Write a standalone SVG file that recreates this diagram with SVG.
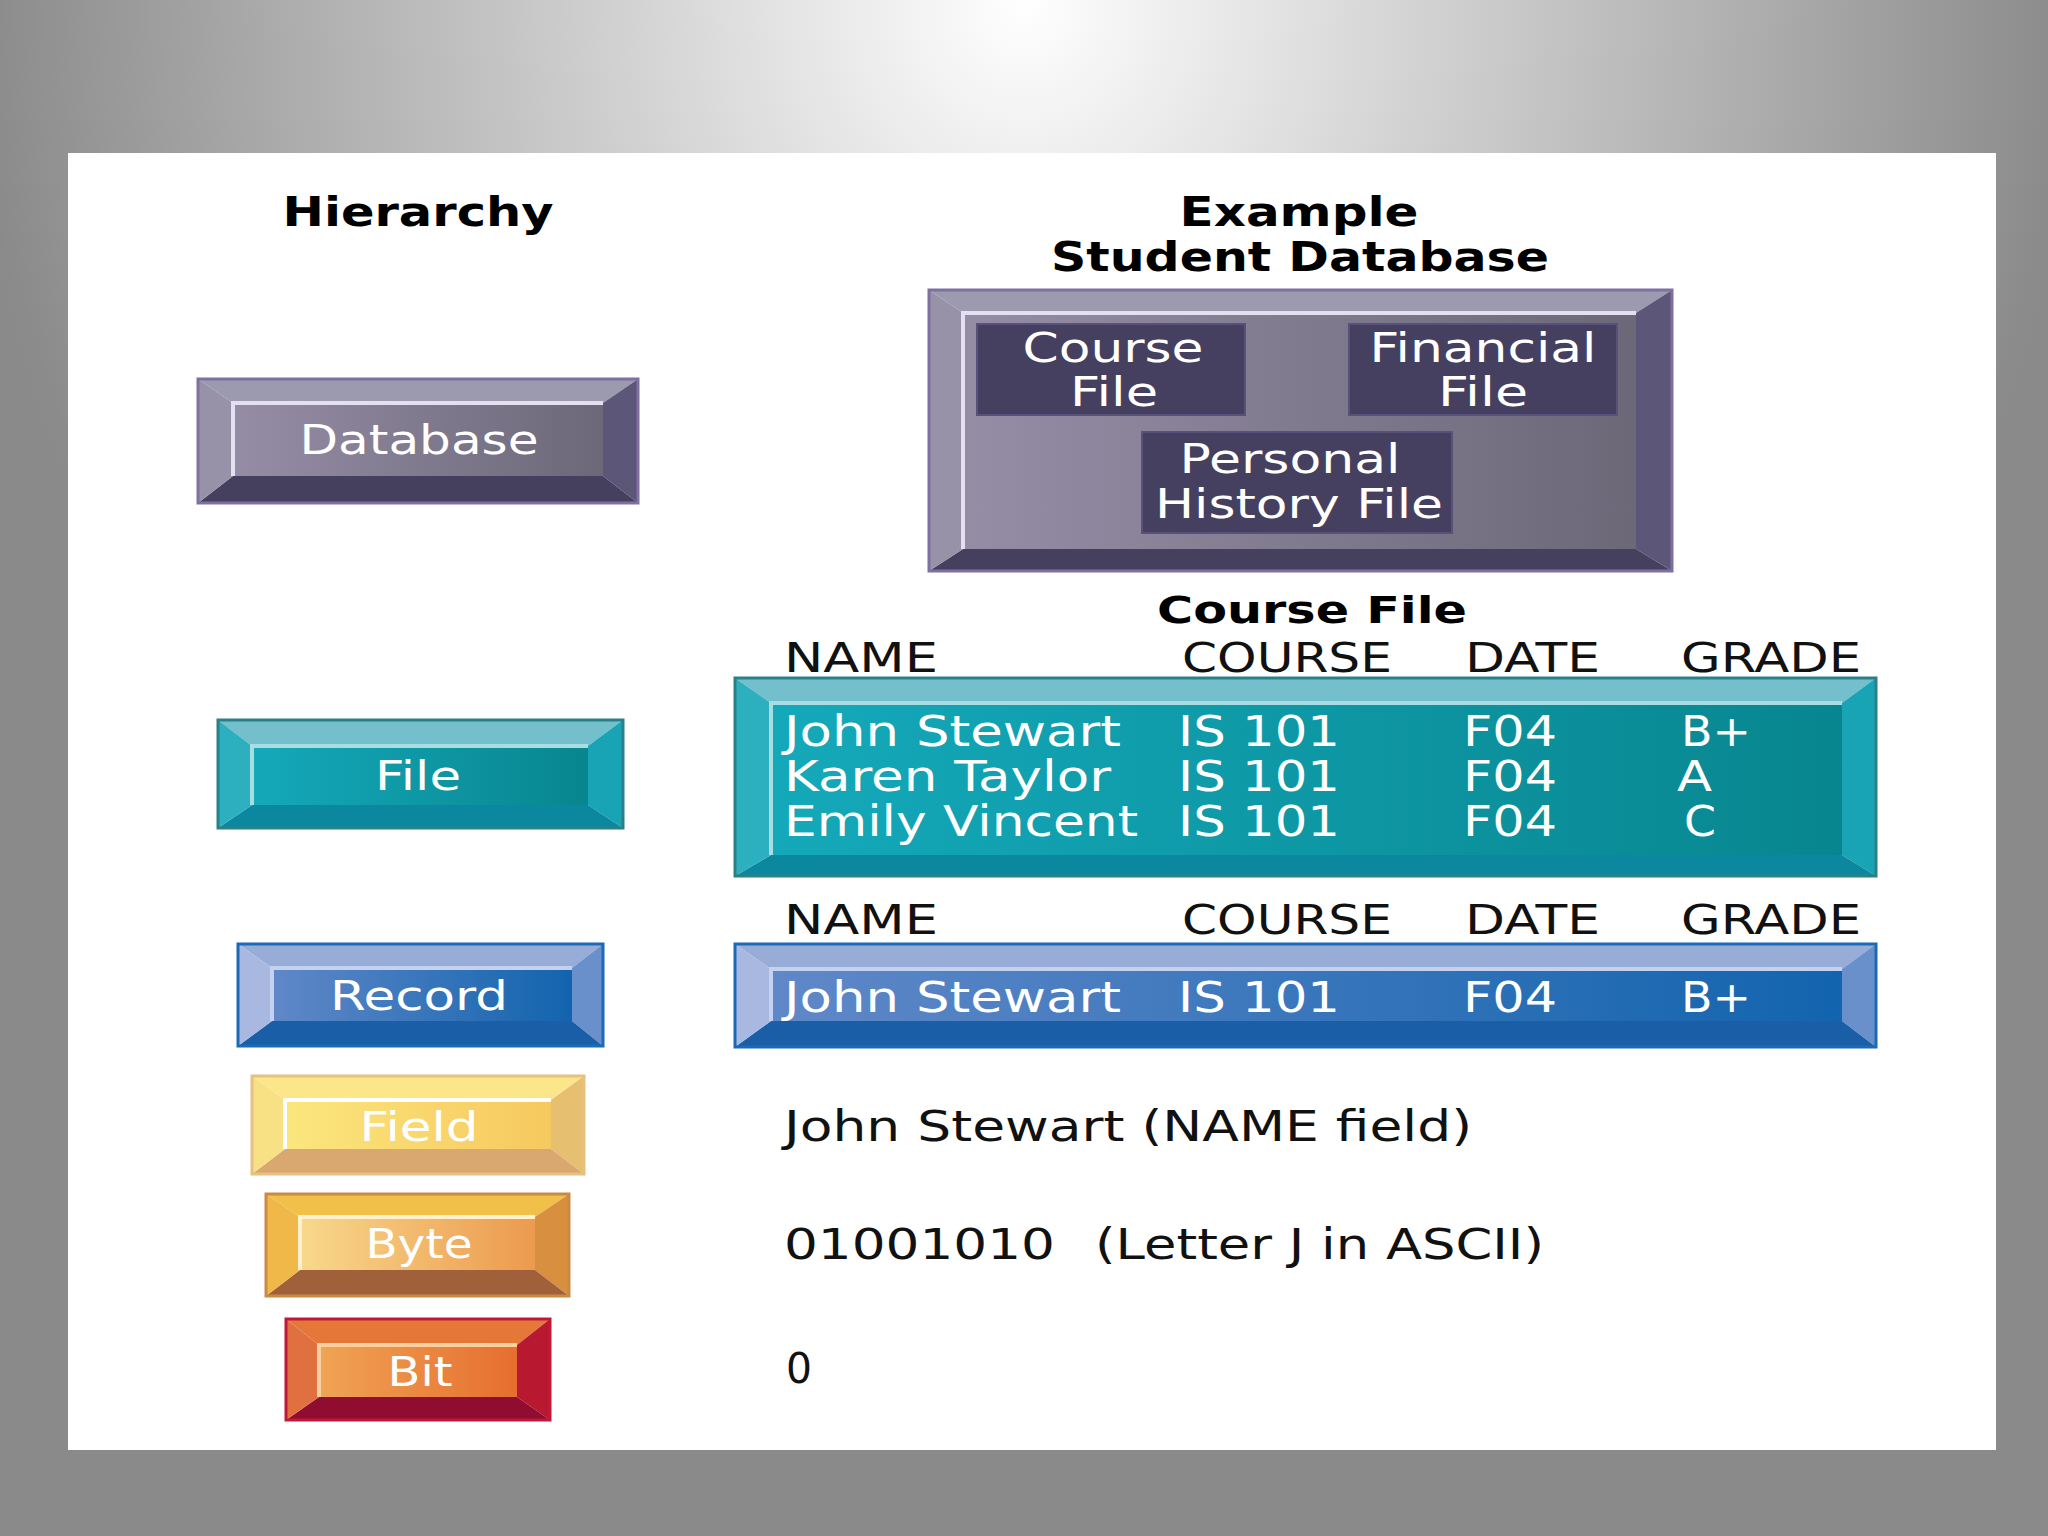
<svg xmlns="http://www.w3.org/2000/svg" width="2048" height="1536" viewBox="0 0 2048 1536">
<defs>
<radialGradient id="bg" gradientUnits="userSpaceOnUse" cx="1024" cy="0" r="1050" gradientTransform="translate(1024 0) scale(1 1.1) translate(-1024 0)">
<stop offset="0" stop-color="#ffffff"/>
<stop offset="0.5" stop-color="#c4c4c4"/>
<stop offset="1" stop-color="#8a8a8a"/>
</radialGradient>
<linearGradient id="gDb" x1="0" y1="0" x2="1" y2="0"><stop offset="0" stop-color="#958da6"/><stop offset="1" stop-color="#6c6878"/></linearGradient>
<linearGradient id="gTeal" x1="0" y1="0" x2="1" y2="0"><stop offset="0" stop-color="#14a9ba"/><stop offset="1" stop-color="#08868f"/></linearGradient>
<linearGradient id="gBlue" x1="0" y1="0" x2="1" y2="0"><stop offset="0" stop-color="#6088c8"/><stop offset="1" stop-color="#1264ae"/></linearGradient>
<linearGradient id="gField" x1="0" y1="0" x2="1" y2="0"><stop offset="0" stop-color="#fbe67e"/><stop offset="1" stop-color="#f6c95e"/></linearGradient>
<linearGradient id="gByte" x1="0" y1="0" x2="1" y2="0"><stop offset="0" stop-color="#f8d88c"/><stop offset="1" stop-color="#ec9a4e"/></linearGradient>
<linearGradient id="gBit" x1="0" y1="0" x2="1" y2="0"><stop offset="0" stop-color="#f0a454"/><stop offset="1" stop-color="#e66e30"/></linearGradient>
</defs>
<style>
.title{font-family:"DejaVu Sans","Liberation Sans",sans-serif;font-weight:bold;font-size:40px;fill:#000;text-anchor:middle;}
.lbl{font-family:"DejaVu Sans","Liberation Sans",sans-serif;font-size:40px;fill:#fff;text-anchor:middle;}
.row{font-family:"DejaVu Sans","Liberation Sans",sans-serif;font-size:42px;fill:#fff;}
.hdr{font-family:"DejaVu Sans","Liberation Sans",sans-serif;font-size:41px;fill:#111;}
.plain{font-family:"DejaVu Sans","Liberation Sans",sans-serif;font-size:42px;fill:#111;}
.hl{fill:none;stroke-width:4;}
.sub{fill:#45405f;stroke:#58527a;stroke-width:2;}
</style>
<rect x="0" y="0" width="2048" height="1536" fill="url(#bg)"/>
<rect x="68" y="153" width="1928" height="1297" fill="#ffffff"/>

<g id="titles">
<text class="title" x="418" y="226" textLength="271" lengthAdjust="spacingAndGlyphs">Hierarchy</text>
<text class="title" x="1299" y="226" textLength="239" lengthAdjust="spacingAndGlyphs">Example</text>
<text class="title" x="1300" y="271" textLength="498" lengthAdjust="spacingAndGlyphs">Student Database</text>
</g>

<g id="node-database">
<polygon points="198,379 638,379 603,403 233,403" fill="#9c9aae"/>
<polygon points="638,379 638,503 603,476 603,403" fill="#5c5678"/>
<polygon points="198,503 638,503 603,476 233,476" fill="#46405f"/>
<polygon points="198,379 233,403 233,476 198,503" fill="#9892a8"/>
<rect x="233" y="403" width="370" height="73" fill="url(#gDb)"/>
<polyline class="hl" points="233,476 233,403 603,403" stroke="#e4e0f0"/>
<rect x="198" y="379" width="440" height="124" fill="none" stroke="#7e70a0" stroke-width="3"/>
<text class="lbl" x="419" y="454" textLength="239" lengthAdjust="spacingAndGlyphs">Database</text>
</g>

<g id="node-student-database">
<polygon points="929,290 1672,290 1636,313 963,313" fill="#9c9aae"/>
<polygon points="1672,290 1672,571 1636,549 1636,313" fill="#5c5678"/>
<polygon points="929,571 1672,571 1636,549 963,549" fill="#46405f"/>
<polygon points="929,290 963,313 963,549 929,571" fill="#9892a8"/>
<rect x="963" y="313" width="673" height="236" fill="url(#gDb)"/>
<polyline class="hl" points="963,549 963,313 1636,313" stroke="#e4e0f0"/>
<rect x="929" y="290" width="743" height="281" fill="none" stroke="#7e70a0" stroke-width="3"/>
<g id="course-file-box">
<rect class="sub" x="977" y="324" width="268" height="91"/>
<text class="lbl" x="1113" y="362" textLength="181" lengthAdjust="spacingAndGlyphs">Course</text>
<text class="lbl" x="1114" y="406" textLength="88" lengthAdjust="spacingAndGlyphs">File</text>
</g>
<g id="financial-file-box">
<rect class="sub" x="1349" y="324" width="268" height="91"/>
<text class="lbl" x="1483" y="362" textLength="227" lengthAdjust="spacingAndGlyphs">Financial</text>
<text class="lbl" x="1483" y="406" textLength="90" lengthAdjust="spacingAndGlyphs">File</text>
</g>
<g id="personal-history-box">
<rect class="sub" x="1142" y="432" width="310" height="101"/>
<text class="lbl" x="1290" y="473" textLength="221" lengthAdjust="spacingAndGlyphs">Personal</text>
<text class="lbl" x="1299" y="518" textLength="288" lengthAdjust="spacingAndGlyphs">History File</text>
</g>
</g>

<g id="course-file-title">
<text class="title" x="1312" y="623" font-size="38" style="font-size:38px" textLength="310" lengthAdjust="spacingAndGlyphs">Course File</text>
</g>

<g id="header-1">
<text class="hdr" x="784" y="672" textLength="154" lengthAdjust="spacingAndGlyphs">NAME</text>
<text class="hdr" x="1182" y="672" textLength="210" lengthAdjust="spacingAndGlyphs">COURSE</text>
<text class="hdr" x="1465" y="672" textLength="135" lengthAdjust="spacingAndGlyphs">DATE</text>
<text class="hdr" x="1681" y="672" textLength="180" lengthAdjust="spacingAndGlyphs">GRADE</text>
</g>

<g id="file-table">
<polygon points="735,678 1876,678 1842,703 771,703" fill="#74bfcc"/>
<polygon points="1876,678 1876,876 1842,855 1842,703" fill="#18a4b4"/>
<polygon points="735,876 1876,876 1842,855 771,855" fill="#0b88a0"/>
<polygon points="735,678 771,703 771,855 735,876" fill="#2cb0c0"/>
<rect x="771" y="703" width="1071" height="152" fill="url(#gTeal)"/>
<polyline class="hl" points="771,855 771,703 1842,703" stroke="#a8dde2"/>
<rect x="735" y="678" width="1141" height="198" fill="none" stroke="#2a8088" stroke-width="3"/>
<text class="row" x="784" y="746" textLength="337" lengthAdjust="spacingAndGlyphs">John Stewart</text>
<text class="row" x="1178" y="746" textLength="162" lengthAdjust="spacingAndGlyphs">IS 101</text>
<text class="row" x="1463" y="746" textLength="94" lengthAdjust="spacingAndGlyphs">F04</text>
<text class="row" x="1681" y="746" textLength="70" lengthAdjust="spacingAndGlyphs">B+</text>
<text class="row" x="784" y="791" textLength="327" lengthAdjust="spacingAndGlyphs">Karen Taylor</text>
<text class="row" x="1178" y="791" textLength="162" lengthAdjust="spacingAndGlyphs">IS 101</text>
<text class="row" x="1463" y="791" textLength="94" lengthAdjust="spacingAndGlyphs">F04</text>
<text class="row" x="1677" y="791" textLength="35" lengthAdjust="spacingAndGlyphs">A</text>
<text class="row" x="784" y="836" textLength="354" lengthAdjust="spacingAndGlyphs">Emily Vincent</text>
<text class="row" x="1178" y="836" textLength="162" lengthAdjust="spacingAndGlyphs">IS 101</text>
<text class="row" x="1463" y="836" textLength="94" lengthAdjust="spacingAndGlyphs">F04</text>
<text class="row" x="1684" y="836" textLength="32" lengthAdjust="spacingAndGlyphs">C</text>
</g>

<g id="node-file">
<polygon points="218,720 623,720 588,746 252,746" fill="#74bfcc"/>
<polygon points="623,720 623,828 588,805 588,746" fill="#18a4b4"/>
<polygon points="218,828 623,828 588,805 252,805" fill="#0b88a0"/>
<polygon points="218,720 252,746 252,805 218,828" fill="#2cb0c0"/>
<rect x="252" y="746" width="336" height="59" fill="url(#gTeal)"/>
<polyline class="hl" points="252,805 252,746 588,746" stroke="#a8dde2"/>
<rect x="218" y="720" width="405" height="108" fill="none" stroke="#2a8088" stroke-width="3"/>
<text class="lbl" x="418" y="790" textLength="86" lengthAdjust="spacingAndGlyphs">File</text>
</g>

<g id="header-2">
<text class="hdr" x="784" y="934" textLength="154" lengthAdjust="spacingAndGlyphs">NAME</text>
<text class="hdr" x="1182" y="934" textLength="210" lengthAdjust="spacingAndGlyphs">COURSE</text>
<text class="hdr" x="1465" y="934" textLength="135" lengthAdjust="spacingAndGlyphs">DATE</text>
<text class="hdr" x="1681" y="934" textLength="180" lengthAdjust="spacingAndGlyphs">GRADE</text>
</g>

<g id="record-row">
<polygon points="735,944 1876,944 1842,969 771,969" fill="#98acd8"/>
<polygon points="1876,944 1876,1047 1842,1021 1842,969" fill="#6a90cc"/>
<polygon points="735,1047 1876,1047 1842,1021 771,1021" fill="#1a5ea8"/>
<polygon points="735,944 771,969 771,1021 735,1047" fill="#a8b8e0"/>
<rect x="771" y="969" width="1071" height="52" fill="url(#gBlue)"/>
<polyline class="hl" points="771,1021 771,969 1842,969" stroke="#c4d2f0"/>
<rect x="735" y="944" width="1141" height="103" fill="none" stroke="#1a6ab8" stroke-width="3"/>
<text class="row" x="784" y="1012" textLength="337" lengthAdjust="spacingAndGlyphs">John Stewart</text>
<text class="row" x="1178" y="1012" textLength="162" lengthAdjust="spacingAndGlyphs">IS 101</text>
<text class="row" x="1463" y="1012" textLength="94" lengthAdjust="spacingAndGlyphs">F04</text>
<text class="row" x="1681" y="1012" textLength="70" lengthAdjust="spacingAndGlyphs">B+</text>
</g>

<g id="node-record">
<polygon points="238,944 603,944 572,968 272,968" fill="#98acd8"/>
<polygon points="603,944 603,1046 572,1021 572,968" fill="#6a90cc"/>
<polygon points="238,1046 603,1046 572,1021 272,1021" fill="#1a5ea8"/>
<polygon points="238,944 272,968 272,1021 238,1046" fill="#a8b8e0"/>
<rect x="272" y="968" width="300" height="53" fill="url(#gBlue)"/>
<polyline class="hl" points="272,1021 272,968 572,968" stroke="#c4d2f0"/>
<rect x="238" y="944" width="365" height="102" fill="none" stroke="#1a6ab8" stroke-width="3"/>
<text class="lbl" x="419" y="1010" textLength="178" lengthAdjust="spacingAndGlyphs">Record</text>
</g>

<g id="node-field">
<polygon points="252,1076 584,1076 551,1100 285,1100" fill="#fbe78a"/>
<polygon points="584,1076 584,1174 551,1149 551,1100" fill="#e6c070"/>
<polygon points="252,1174 584,1174 551,1149 285,1149" fill="#d8a870"/>
<polygon points="252,1076 285,1100 285,1149 252,1174" fill="#f8e084"/>
<rect x="285" y="1100" width="266" height="49" fill="url(#gField)"/>
<polyline class="hl" points="285,1149 285,1100 551,1100" stroke="#ffffff"/>
<rect x="252" y="1076" width="332" height="98" fill="none" stroke="#e8c080" stroke-width="3"/>
<text class="lbl" x="419" y="1141" textLength="119" lengthAdjust="spacingAndGlyphs">Field</text>
</g>

<g id="node-byte">
<polygon points="266,1194 569,1194 535,1217 300,1217" fill="#f0c048"/>
<polygon points="569,1194 569,1296 535,1270 535,1217" fill="#d89040"/>
<polygon points="266,1296 569,1296 535,1270 300,1270" fill="#a0603a"/>
<polygon points="266,1194 300,1217 300,1270 266,1296" fill="#f0b848"/>
<rect x="300" y="1217" width="235" height="53" fill="url(#gByte)"/>
<polyline class="hl" points="300,1270 300,1217 535,1217" stroke="#fff0d0"/>
<rect x="266" y="1194" width="303" height="102" fill="none" stroke="#c98a44" stroke-width="3"/>
<text class="lbl" x="419" y="1258" textLength="107" lengthAdjust="spacingAndGlyphs">Byte</text>
</g>

<g id="node-bit">
<polygon points="286,1319 550,1319 517,1345 319,1345" fill="#e57838"/>
<polygon points="550,1319 550,1420 517,1397 517,1345" fill="#b81830"/>
<polygon points="286,1420 550,1420 517,1397 319,1397" fill="#900c30"/>
<polygon points="286,1319 319,1345 319,1397 286,1420" fill="#e07040"/>
<rect x="319" y="1345" width="198" height="52" fill="url(#gBit)"/>
<polyline class="hl" points="319,1397 319,1345 517,1345" stroke="#f8d0a0"/>
<rect x="286" y="1319" width="264" height="101" fill="none" stroke="#c01838" stroke-width="3"/>
<text class="lbl" x="420" y="1386" textLength="65" lengthAdjust="spacingAndGlyphs">Bit</text>
</g>

<g id="examples">
<text class="plain" x="784" y="1141" textLength="688" lengthAdjust="spacingAndGlyphs">John Stewart (NAME field)</text>
<text class="plain" x="784" y="1259" textLength="271" lengthAdjust="spacingAndGlyphs">01001010</text>
<text class="plain" x="1095" y="1259" textLength="449" lengthAdjust="spacingAndGlyphs">(Letter J in ASCII)</text>
<text class="plain" x="786" y="1383" textLength="26" lengthAdjust="spacingAndGlyphs">0</text>
</g>

<g id="connectors"/>
</svg>
